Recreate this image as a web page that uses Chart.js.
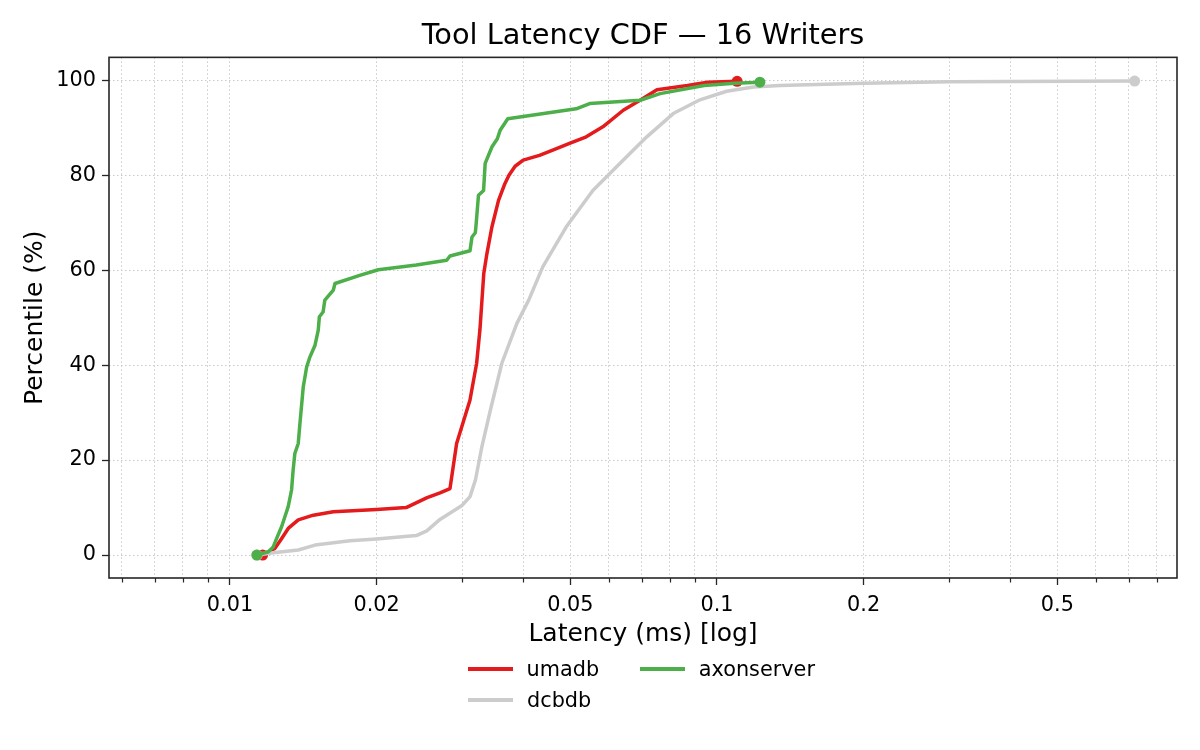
<!DOCTYPE html>
<html>
<head>
<meta charset="utf-8">
<script src="https://cdn.jsdelivr.net/npm/chart.js@4.4.1/dist/chart.umd.min.js"></script>
<style>
  html, body { margin: 0; padding: 0; background: #ffffff; }
  #wrap { position: relative; width: 1200px; height: 750px; overflow: hidden; }
  #c { position: absolute; left: 0; top: 0; }
  .lg-line { position: absolute; height: 4px; }
  .lg-text { position: absolute; font-family: "DejaVu Sans", sans-serif; font-size: 20.8px; line-height: 24px; color: #000; white-space: nowrap; }
</style>
</head>
<body>
<div id="wrap">
  <canvas id="c" width="1200" height="750"></canvas>
  <div id="legend"></div>
</div>
<script>
// ---------------- data ----------------
const umadbLatency = [0.01167, 0.0119, 0.01237, 0.01277, 0.01317, 0.01381, 0.01483, 0.0163, 0.0200, 0.0230, 0.0254, 0.0270, 0.0283, 0.0292, 0.0311, 0.0321, 0.0326, 0.0332, 0.0337, 0.0345, 0.0356, 0.0366, 0.0374, 0.0385, 0.0400, 0.0432, 0.0460, 0.0498, 0.0539, 0.0583, 0.0642, 0.0695, 0.0753, 0.0870, 0.0956, 0.1100];
const umadbPercentile = [0, 0.5, 1.4, 3.5, 5.6, 7.4, 8.4, 9.1, 9.6, 10.0, 12.1, 13.1, 14.0, 23.5, 32.6, 40.4, 47.4, 59.3, 63.5, 69.1, 74.7, 78.0, 80.0, 81.9, 83.2, 84.2, 85.3, 86.7, 88.1, 90.2, 93.7, 95.8, 98.0, 98.9, 99.6, 99.8];

const axonLatency = [0.01135, 0.01199, 0.01227, 0.01247, 0.01277, 0.01297, 0.01317, 0.01338, 0.01348, 0.01359, 0.01381, 0.01392, 0.01414, 0.01437, 0.01459, 0.01495, 0.01518, 0.01526, 0.01553, 0.01566, 0.0163, 0.01643, 0.01847, 0.02016, 0.02414, 0.02786, 0.02830, 0.03111, 0.0314, 0.0319, 0.03203, 0.03238, 0.03317, 0.03342, 0.03452, 0.03540, 0.03588, 0.03719, 0.0514, 0.05477, 0.06952, 0.07643, 0.09411, 0.1086, 0.1225];
const axonPercentile = [0, 0.7, 1.7, 3.5, 6.0, 8.1, 10.2, 13.7, 17.9, 21.4, 23.5, 27.7, 35.4, 39.6, 41.7, 44.2, 47.4, 50.2, 51.2, 53.7, 55.8, 57.2, 58.9, 60.1, 61.1, 62.1, 63.0, 64.1, 67.0, 67.9, 69.8, 75.8, 76.8, 82.5, 86.0, 87.7, 89.5, 91.9, 94.0, 95.1, 95.8, 97.2, 98.9, 99.4, 99.6];

const dcbdbLatency = [0.01138, 0.01227, 0.01381, 0.01495, 0.01763, 0.0200, 0.02414, 0.02536, 0.02699, 0.0300, 0.03111, 0.03192, 0.0329, 0.03425, 0.03616, 0.03883, 0.04106, 0.04388, 0.04901, 0.05561, 0.06318, 0.07176, 0.08133, 0.09227, 0.1047, 0.1188, 0.1347, 0.2000, 0.3012, 0.7205];
const dcbdbPercentile = [0, 0.5, 1.05, 2.1, 3.0, 3.4, 4.1, 5.1, 7.5, 10.5, 12.3, 15.8, 22.8, 30.5, 40.4, 48.8, 53.7, 60.7, 69.1, 76.8, 82.5, 88.1, 93.0, 95.9, 97.7, 98.6, 98.9, 99.4, 99.7, 99.85];

const seriesNames  = ['umadb', 'dcbdb', 'axonserver'];
const seriesColors = ['#e41a1c', '#cccccc', '#4daf4a'];

const xMajorTicks = [0.01, 0.02, 0.05, 0.1, 0.2, 0.5];
const xMajorLabels = ['0.01', '0.02', '0.05', '0.1', '0.2', '0.5'];
const xMinorTicks = [0.006, 0.007, 0.008, 0.009, 0.03, 0.04, 0.06, 0.07, 0.08, 0.09, 0.3, 0.4, 0.6, 0.7, 0.8];
const yTicks = [0, 20, 40, 60, 80, 100];

const titleText = 'Tool Latency CDF — 16 Writers';
const xTitle = 'Latency (ms) [log]';
const yTitle = 'Percentile (%)';

// ---------------- chart ----------------
Chart.defaults.font.family = '"DejaVu Sans", sans-serif';
Chart.defaults.color = '#000';

const axisColor = '#262626';
const gridColor = '#cacaca';

function pairs(xs, ys) { return xs.map((x, i) => ({ x: x, y: ys[i] })); }
function endRadius(ctx) {
  const n = ctx.dataset.data.length;
  return (ctx.dataIndex === 0 || ctx.dataIndex === n - 1) ? 5.5 : 0;
}
function isMajor(v) { return xMajorTicks.some(m => Math.abs(m - v) / m < 1e-6); }

const seriesX = [umadbLatency, dcbdbLatency, axonLatency];
const seriesY = [umadbPercentile, dcbdbPercentile, axonPercentile];

// Chart.js draws dataset 0 on top -> reverse the matplotlib plotting order
const datasets = [2, 1, 0].map(i => ({
  label: seriesNames[i],
  data: pairs(seriesX[i], seriesY[i]),
  borderColor: seriesColors[i],
  backgroundColor: seriesColors[i],
  pointBackgroundColor: seriesColors[i],
  pointBorderWidth: 0,
  pointRadius: endRadius,
  pointHoverRadius: endRadius,
  borderWidth: 3.5,
  showLine: true,
  tension: 0,
  fill: false,
  borderJoinStyle: 'round',
  borderCapStyle: 'butt'
}));

const framePlugin = {
  id: 'frame',
  afterDraw(chart) {
    const { ctx, chartArea: a, scales } = chart;
    ctx.save();
    // minor x ticks
    ctx.strokeStyle = axisColor;
    ctx.lineWidth = 1.2;
    xMinorTicks.forEach(v => {
      const px = Math.round(scales.x.getPixelForValue(v)) + 0.5;
      ctx.beginPath();
      ctx.moveTo(px, a.bottom);
      ctx.lineTo(px, a.bottom + 4.5);
      ctx.stroke();
    });
    // spines
    ctx.lineWidth = 1.6;
    ctx.strokeRect(a.left, a.top, a.right - a.left, a.bottom - a.top);
    ctx.restore();
  }
};

new Chart(document.getElementById('c'), {
  type: 'scatter',
  data: { datasets: datasets },
  plugins: [framePlugin],
  options: {
    responsive: false,
    animation: false,
    devicePixelRatio: 1,
    layout: { padding: { left: 0, right: 23, top: 0, bottom: 101 } },
    plugins: {
      legend: { display: false },
      tooltip: { enabled: false },
      title: {
        display: true,
        fullSize: false,
        text: titleText,
        color: '#000',
        font: { size: 28.8, weight: 'normal' },
        padding: { top: 19.2, bottom: 3.6 }
      }
    },
    scales: {
      x: {
        type: 'logarithmic',
        position: 'bottom',
        min: 0.005644,
        max: 0.8803,
        afterBuildTicks(scale) {
          scale.ticks = xMajorTicks.concat(xMinorTicks).sort((a, b) => a - b).map(v => ({ value: v }));
        },
        afterFit(scale) { scale.height = 71; },
        ticks: {
          autoSkip: false,
          maxRotation: 0,
          minRotation: 0,
          padding: 8,
          color: '#000',
          font: { size: 20.8 },
          callback(value) {
            const idx = xMajorTicks.findIndex(m => Math.abs(m - value) / m < 1e-6);
            return idx >= 0 ? xMajorLabels[idx] : '';
          }
        },
        grid: {
          display: true,
          drawOnChartArea: true,
          drawTicks: true,
          color: gridColor,
          lineWidth: 1,
          tickLength: 7,
          tickWidth: 1.3,
          tickColor: (c) => (c.tick && isMajor(c.tick.value)) ? axisColor : 'rgba(0,0,0,0)'
        },
        border: { display: false, dash: [1.5, 2.5] },
        title: {
          display: true,
          text: xTitle,
          color: '#000',
          font: { size: 25 },
          padding: { top: 0, bottom: 0 }
        }
      },
      y: {
        type: 'linear',
        position: 'left',
        min: -4.84,
        max: 104.84,
        afterBuildTicks(scale) {
          scale.ticks = yTicks.map(v => ({ value: v }));
        },
        afterFit(scale) { scale.width = 109; },
        ticks: {
          padding: 6,
          color: '#000',
          font: { size: 20.8 },
          callback(value) { return String(value); }
        },
        grid: {
          display: true,
          color: gridColor,
          lineWidth: 1,
          tickLength: 7,
          tickWidth: 1.3,
          tickColor: axisColor
        },
        border: { display: false, dash: [1.5, 2.5] },
        title: {
          display: true,
          text: yTitle,
          color: '#000',
          font: { size: 25 },
          padding: { top: 20.3, bottom: 0 }
        }
      }
    }
  }
});

// ---------------- legend (2 columns, matplotlib style) ----------------
const legendEntries = [
  { name: seriesNames[0], color: seriesColors[0], line: [468, 669], text: [526.5, 656.8] },
  { name: seriesNames[2], color: seriesColors[2], line: [640, 669], text: [698.8, 656.8] },
  { name: seriesNames[1], color: seriesColors[1], line: [468, 700], text: [527, 687.8] }
];
const lg = document.getElementById('legend');
legendEntries.forEach(e => {
  const l = document.createElement('div');
  l.className = 'lg-line';
  l.style.left = e.line[0] + 'px';
  l.style.top = (e.line[1] - 2) + 'px';
  l.style.width = '45px';
  l.style.background = e.color;
  lg.appendChild(l);
  const t = document.createElement('div');
  t.className = 'lg-text';
  t.style.left = e.text[0] + 'px';
  t.style.top = e.text[1] + 'px';
  t.textContent = e.name;
  lg.appendChild(t);
});
</script>
</body>
</html>
